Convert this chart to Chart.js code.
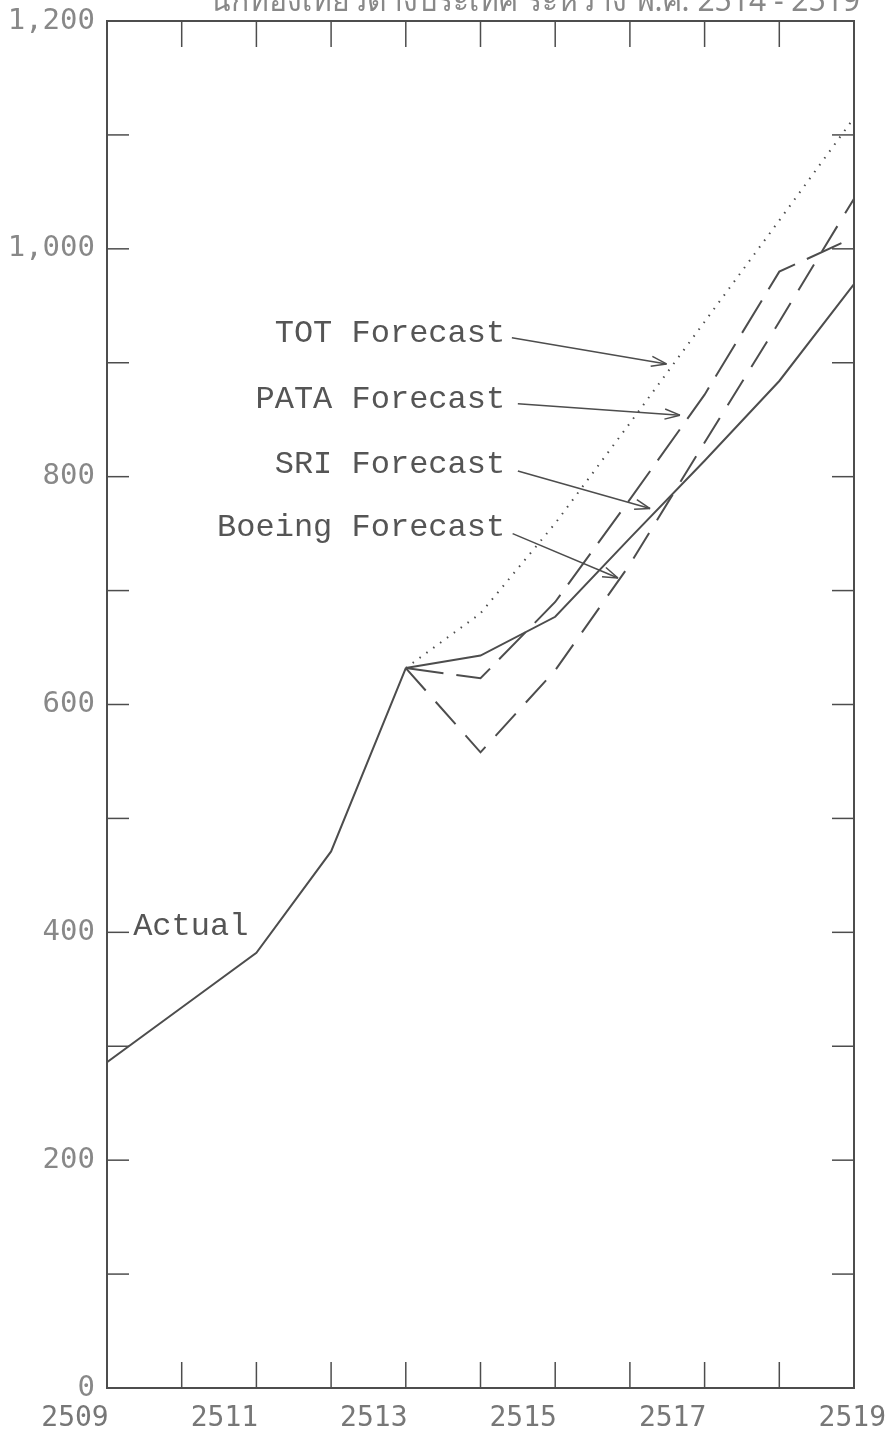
<!DOCTYPE html>
<html>
<head>
<meta charset="utf-8">
<script src="https://cdn.jsdelivr.net/npm/chart.js@4.4.1/dist/chart.umd.min.js"></script>
<style>
  html, body { margin: 0; padding: 0; background: #fff; }
  canvas { display: block; }
</style>
</head>
<body>
<canvas id="chart" width="888" height="1437"></canvas>
<script>
// years (Buddhist era) and visitor counts (thousands)
const years = [2509, 2510, 2511, 2512, 2513, 2514, 2515, 2516, 2517, 2518, 2519];
const actual = [286, 334, 382, 471, 632, null, null, null, null, null, null];
const totForecast = [null, null, null, null, 632, 680, 759, 847, 936, 1025, 1115];
const pataForecast = [null, null, null, null, 632, 623, 690, 780, 872, 980, 1010];
const sriForecast = [null, null, null, null, 632, 643, 677, 746, 814, 884, 969];
const boeingForecast = [null, null, null, null, 632, 558, 630, 723, 830, 936, 1044];
const xTickLabels = [2509, 2511, 2513, 2515, 2517, 2519];
const yLabelEvery = 200;
const titleText = 'นักท่องเที่ยวต่างประเทศ ระหว่าง พ.ศ. 2514 - 2519';

const ink = '#4d4d4d';
const typeFont = '"Liberation Mono", "DejaVu Sans Mono", monospace';

// text notes, placed in data units (year, value)
const notes = [
  { text: 'TOT Forecast',    at: [2514.33, 926], tail: [2514.42, 922], tip: [2516.49, 899] },
  { text: 'PATA Forecast',   at: [2514.33, 868], tail: [2514.50, 864], tip: [2516.67, 854] },
  { text: 'SRI Forecast',    at: [2514.33, 811], tail: [2514.50, 805], tip: [2516.27, 772] },
  { text: 'Boeing Forecast', at: [2514.33, 755], tail: [2514.43, 750], tip: [2515.84, 711] }
];
const actualNote = { text: 'Actual', at: [2509.35, 405] };

const toPoints = arr => years.map((yr, i) => ({ x: yr, y: arr[i] }));

function seg(ctx, x1, y1, x2, y2) {
  ctx.beginPath();
  ctx.moveTo(x1, y1);
  ctx.lineTo(x2, y2);
  ctx.stroke();
}

function arrow(ctx, x1, y1, x2, y2) {
  seg(ctx, x1, y1, x2, y2);
  const a = Math.atan2(y2 - y1, x2 - x1);
  const len = 16, spread = 0.32;
  seg(ctx, x2, y2, x2 - len * Math.cos(a - spread), y2 - len * Math.sin(a - spread));
  seg(ctx, x2, y2, x2 - len * Math.cos(a + spread), y2 - len * Math.sin(a + spread));
}

const framePlugin = {
  id: 'frame',
  afterDatasetsDraw(chart) {
    const { ctx, chartArea: a, scales: { x, y } } = chart;
    ctx.save();
    ctx.strokeStyle = ink;
    ctx.lineWidth = 2;
    ctx.strokeRect(a.left, a.top, a.right - a.left, a.bottom - a.top);

    ctx.lineWidth = 1.5;
    y.ticks.forEach(t => {
      if (t.value <= y.min || t.value >= y.max) return;
      const py = y.getPixelForValue(t.value);
      seg(ctx, a.left, py, a.left + 22, py);
      seg(ctx, a.right - 22, py, a.right, py);
    });
    x.ticks.forEach(t => {
      if (t.value <= x.min || t.value >= x.max) return;
      const px = x.getPixelForValue(t.value);
      seg(ctx, px, a.top, px, a.top + 26);
      seg(ctx, px, a.bottom - 26, px, a.bottom);
    });

    // x labels, typed slightly left of their ticks as on the scan
    ctx.fillStyle = '#777';
    ctx.font = '28px "DejaVu Sans Mono", monospace';
    ctx.textBaseline = 'middle';
    xTickLabels.forEach((yr, i) => {
      const px = x.getPixelForValue(yr);
      const last = i === xTickLabels.length - 1;
      ctx.textAlign = last ? 'right' : 'center';
      ctx.fillText(String(yr), last ? px + 32 : px - 32, a.bottom + 31);
    });

    // notes and arrows
    ctx.fillStyle = '#555';
    ctx.font = '32px ' + typeFont;
    ctx.textAlign = 'right';
    ctx.lineWidth = 1.5;
    notes.forEach(n => {
      ctx.fillText(n.text, x.getPixelForValue(n.at[0]), y.getPixelForValue(n.at[1]));
      arrow(ctx,
        x.getPixelForValue(n.tail[0]), y.getPixelForValue(n.tail[1]),
        x.getPixelForValue(n.tip[0]), y.getPixelForValue(n.tip[1]));
    });
    ctx.textAlign = 'left';
    ctx.fillText(actualNote.text, x.getPixelForValue(actualNote.at[0]), y.getPixelForValue(actualNote.at[1]));

    // title, cut off at the top edge of the scan
    ctx.fillStyle = '#888';
    ctx.font = '30px "Noto Sans", "DejaVu Sans", sans-serif';
    ctx.textAlign = 'right';
    ctx.textBaseline = 'alphabetic';
    ctx.fillText(titleText, 860, 11);
    ctx.restore();
  }
};

const lineStyle = {
  borderColor: ink,
  borderWidth: 2,
  pointRadius: 0,
  tension: 0,
  fill: false
};

new Chart(document.getElementById('chart').getContext('2d'), {
  type: 'line',
  data: {
    datasets: [
      { label: 'Actual', data: toPoints(actual), ...lineStyle },
      { label: 'TOT Forecast', data: toPoints(totForecast), ...lineStyle, borderWidth: 2, borderDash: [1.5, 7] },
      { label: 'PATA Forecast', data: toPoints(pataForecast), ...lineStyle, borderDash: [38, 13] },
      { label: 'SRI Forecast', data: toPoints(sriForecast), ...lineStyle },
      { label: 'Boeing Forecast', data: toPoints(boeingForecast), ...lineStyle, borderDash: [30, 15] }
    ]
  },
  options: {
    responsive: false,
    animation: false,
    layout: { padding: { top: 21, right: 34, left: 0, bottom: 0 } },
    plugins: { legend: { display: false }, tooltip: { enabled: false } },
    scales: {
      x: {
        type: 'linear',
        min: years[0],
        max: years[years.length - 1],
        grid: { display: false, drawTicks: false },
        border: { display: false },
        ticks: { display: false, stepSize: 1 },
        afterFit: s => { s.height = 49; s.paddingLeft = 0; s.paddingRight = 0; }
      },
      y: {
        min: 0,
        max: 1200,
        grid: { display: false, drawTicks: false },
        border: { display: false },
        ticks: {
          stepSize: 100,
          padding: 12,
          color: '#888',
          font: { family: '"DejaVu Sans Mono", monospace', size: 29 },
          callback: v => (v % yLabelEvery === 0 ? v.toLocaleString('en-US') : '')
        },
        afterFit: s => { s.width = 107; s.paddingTop = 0; s.paddingBottom = 0; }
      }
    }
  },
  plugins: [framePlugin]
});
</script>
</body>
</html>
